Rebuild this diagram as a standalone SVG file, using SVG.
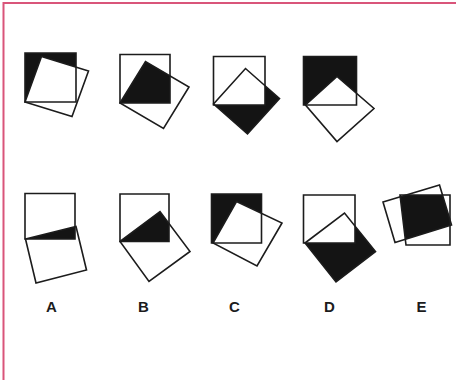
<svg xmlns="http://www.w3.org/2000/svg" width="456" height="380" viewBox="0 0 456 380">
<style>
.o{fill:none;stroke:#1c1c1c;stroke-width:1.6;stroke-linejoin:miter}
.k{fill:#141414;stroke:none}
.w{fill:#fff;stroke:none}
.lbl{font-family:"Liberation Sans",Arial,sans-serif;font-weight:bold;font-size:15px;fill:#1c1c1c;text-anchor:middle}
</style>
<defs>
<clipPath id="c2"><polygon points="120,54.5 170,54.5 170,103 120,103"/></clipPath>
<clipPath id="cA"><polygon points="25,193.5 75,193.5 75,239 25,239"/></clipPath>
<clipPath id="cB"><polygon points="120,194 169,194 169,241.5 120,241.5"/></clipPath>
<clipPath id="cE"><polygon points="400,195 450,195 450,245 406,245"/></clipPath>
</defs>
<rect x="0" y="0" width="456" height="380" fill="#fff"/>
<path d="M3.5,380 V3 H456" fill="none" stroke="#d9557a" stroke-width="2"/>

<g id="fig1">
<polygon class="k" points="25,53 76,53 76,102 25,102"/>
<polygon class="w" points="25,102 41.5,56.5 88.5,71 72,116.5"/>
<polygon class="o" points="25,53 76,53 76,102 25,102"/>
<polygon class="o" points="25,102 41.5,56.5 88.5,71 72,116.5"/>
</g>
<g id="fig2">
<polygon class="k" clip-path="url(#c2)" points="120,103 145.5,61.5 189,87 163.5,128.5"/>
<polygon class="o" points="120,54.5 170,54.5 170,103 120,103"/>
<polygon class="o" points="120,103 145.5,61.5 189,87 163.5,128.5"/>
</g>
<g id="fig3">
<polygon class="k" points="213.5,104 245.5,68.5 279.5,98.5 247.5,134"/>
<polygon class="w" points="213.5,56.5 265,56.5 265,105 213.5,105"/>
<polygon class="o" points="213.5,56.5 265,56.5 265,105 213.5,105"/>
<polygon class="o" points="213.5,104 245.5,68.5 279.5,98.5 247.5,134"/>
</g>
<g id="fig4">
<polygon class="k" points="303.5,56.5 356.5,56.5 356.5,105 303.5,105"/>
<polygon class="w" points="305.5,105 337,76.5 374,108.5 337,141.5"/>
<polygon class="o" points="303.5,56.5 356.5,56.5 356.5,105 303.5,105"/>
<polygon class="o" points="305.5,105 337,76.5 374,108.5 337,141.5"/>
</g>

<g id="optA">
<polygon class="k" clip-path="url(#cA)" points="25.5,239 76,226.5 86.5,270 36,283"/>
<polygon class="o" points="25,193.5 75,193.5 75,239 25,239"/>
<polygon class="o" points="25.5,239 76,226.5 86.5,270 36,283"/>
<text class="lbl" x="51.5" y="311.5">A</text>
</g>
<g id="optB">
<polygon class="k" clip-path="url(#cB)" points="120,241.5 160,211.5 190,251.5 149,281.5"/>
<polygon class="o" points="120,194 169,194 169,241.5 120,241.5"/>
<polygon class="o" points="120,241.5 160,211.5 190,251.5 149,281.5"/>
<text class="lbl" x="143.5" y="311.5">B</text>
</g>
<g id="optC">
<polygon class="k" points="211.5,194 261.5,194 261.5,243 211.5,243"/>
<polygon class="w" points="213,243 236.5,201.5 282,223 257,266"/>
<polygon class="o" points="211.5,194 261.5,194 261.5,243 211.5,243"/>
<polygon class="o" points="213,243 236.5,201.5 282,223 257,266"/>
<text class="lbl" x="234.5" y="311.5">C</text>
</g>
<g id="optD">
<polygon class="k" points="305,243 344.5,213 375.5,251.5 336,282"/>
<polygon class="w" points="303.5,195 355,195 355,243 303.5,243"/>
<polygon class="o" points="303.5,195 355,195 355,243 303.5,243"/>
<polygon class="o" points="305,243 344.5,213 375.5,251.5 336,282"/>
<text class="lbl" x="329.5" y="311.5">D</text>
</g>
<g id="optE">
<polygon class="k" clip-path="url(#cE)" points="383,202 439.5,185 451.5,225 395,242.5"/>
<polygon class="o" points="400,195 450,195 450,245 406,245"/>
<polygon class="o" points="383,202 439.5,185 451.5,225 395,242.5"/>
<text class="lbl" x="421.5" y="311.5">E</text>
</g>
</svg>
